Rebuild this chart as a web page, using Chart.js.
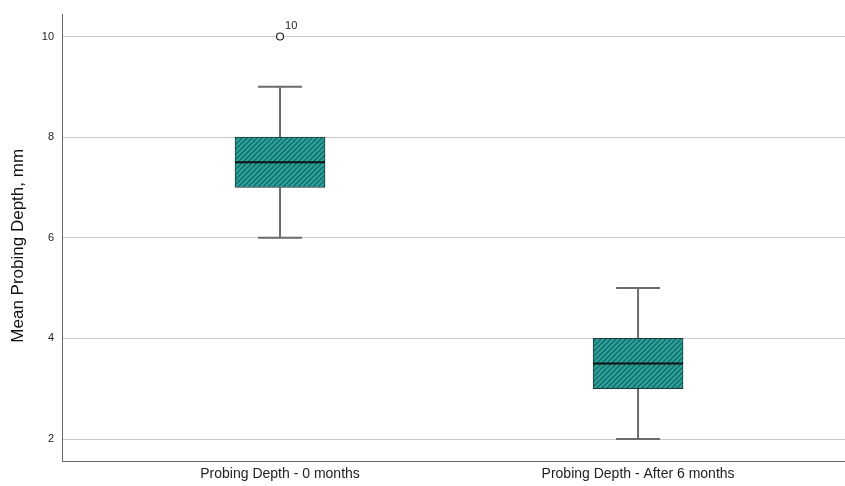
<!DOCTYPE html>
<html>
<head>
<meta charset="utf-8">
<script src="https://cdn.jsdelivr.net/npm/chart.js@4/dist/chart.umd.min.js"></script>
<style>
  html, body { margin: 0; padding: 0; background: #fff; overflow: hidden; }
  canvas { display: block; }
</style>
</head>
<body>
<canvas id="c" width="845" height="486"></canvas>
<script>
// Group labels and box-plot summaries (mm)
const categories = ['Probing Depth - 0 months', 'Probing Depth - After 6 months'];
const positions = [1, 2];
const whiskerLow = [6, 2];
const q1 = [7, 3];
const medians = [7.5, 3.5];
const q3 = [8, 4];
const whiskerHigh = [9, 5];
const outlierValues = [10];
const outlierGroup = [1];
const outlierLabels = ['10'];
const yTicks = [2, 4, 6, 8, 10];
const yTitle = 'Mean Probing Depth, mm';

const FONT = '"Liberation Sans", Arial, sans-serif';

// Teal fill with diagonal hatching
function hatchPattern() {
  const t = document.createElement('canvas');
  t.width = 5; t.height = 5;
  const g = t.getContext('2d');
  g.fillStyle = '#2aa49d';
  g.fillRect(0, 0, 5, 5);
  g.strokeStyle = '#176662';
  g.lineWidth = 1.3;
  g.beginPath();
  g.moveTo(-1, 6); g.lineTo(6, -1);
  g.moveTo(-1, 1); g.lineTo(1, -1);
  g.moveTo(4, 6); g.lineTo(6, 4);
  g.stroke();
  return document.getElementById('c').getContext('2d').createPattern(t, 'repeat');
}

// Whiskers behind the boxes, medians, outlier labels and axis title on top
const boxExtras = {
  id: 'boxExtras',
  beforeDatasetsDraw(chart) {
    const { ctx, scales: { x, y } } = chart;
    ctx.save();
    ctx.strokeStyle = '#6b6b6b';
    ctx.lineWidth = 2;
    positions.forEach((p, i) => {
      const cx = x.getPixelForValue(p);
      const half = 22;
      ctx.beginPath();
      ctx.moveTo(cx, y.getPixelForValue(whiskerLow[i]));
      ctx.lineTo(cx, y.getPixelForValue(q1[i]));
      ctx.moveTo(cx, y.getPixelForValue(q3[i]));
      ctx.lineTo(cx, y.getPixelForValue(whiskerHigh[i]));
      ctx.moveTo(cx - half, y.getPixelForValue(whiskerLow[i]));
      ctx.lineTo(cx + half, y.getPixelForValue(whiskerLow[i]));
      ctx.moveTo(cx - half, y.getPixelForValue(whiskerHigh[i]));
      ctx.lineTo(cx + half, y.getPixelForValue(whiskerHigh[i]));
      ctx.stroke();
    });
    ctx.restore();
  },
  afterDatasetsDraw(chart) {
    const { ctx, chartArea, scales: { x, y } } = chart;
    const boxes = chart.getDatasetMeta(0).data;
    ctx.save();
    ctx.strokeStyle = '#111';
    ctx.lineWidth = 2;
    boxes.forEach((bar, i) => {
      const my = y.getPixelForValue(medians[i]);
      ctx.beginPath();
      ctx.moveTo(bar.x - bar.width / 2, my);
      ctx.lineTo(bar.x + bar.width / 2, my);
      ctx.stroke();
    });
    ctx.fillStyle = '#222';
    ctx.font = '11px ' + FONT;
    ctx.textAlign = 'left';
    ctx.textBaseline = 'middle';
    outlierValues.forEach((v, i) => {
      const px = x.getPixelForValue(outlierGroup[i]);
      const py = y.getPixelForValue(v);
      ctx.fillText(outlierLabels[i], px + 5, py - 11);
    });
    // vertical axis title
    ctx.translate(18, (chartArea.top + chartArea.bottom) / 2 + 8);
    ctx.rotate(-Math.PI / 2);
    ctx.fillStyle = '#111';
    ctx.font = '17px ' + FONT;
    ctx.textAlign = 'center';
    ctx.fillText(yTitle, 0, 0);
    ctx.restore();
  }
};

new Chart(document.getElementById('c'), {
  type: 'bar',
  data: {
    datasets: [
      {
        type: 'bar',
        data: positions.map((p, i) => ({ x: p, y: [q1[i], q3[i]] })),
        backgroundColor: hatchPattern(),
        borderColor: '#1e3b3a',
        borderWidth: 1,
        borderSkipped: false,
        barThickness: 90,
        order: 2
      },
      {
        type: 'scatter',
        data: outlierValues.map((v, i) => ({ x: outlierGroup[i], y: v })),
        pointStyle: 'circle',
        pointRadius: 3.5,
        pointBackgroundColor: '#fff',
        pointBorderColor: '#222',
        pointBorderWidth: 1.2,
        order: 1
      }
    ]
  },
  options: {
    responsive: false,
    animation: false,
    devicePixelRatio: 1,
    layout: { autoPadding: false, padding: { top: 13, right: 0, left: 0, bottom: 0 } },
    plugins: { legend: { display: false }, tooltip: { enabled: false } },
    scales: {
      x: {
        type: 'linear',
        offset: false,
        grace: 0,
        min: 0.391,
        max: 2.578,
        afterBuildTicks(s) { s.ticks = positions.map(v => ({ value: v })); },
        afterFit(s) { s.height = 25; s.paddingRight = 0; s.paddingLeft = 0; },
        grid: { display: false, drawTicks: false, offset: false },
        border: { display: true, color: '#666', width: 1 },
        ticks: {
          padding: 5,
          color: '#222',
          font: { family: FONT, size: 14 },
          maxRotation: 0,
          autoSkip: false,
          callback: (v) => categories[positions.indexOf(v)] || ''
        }
      },
      y: {
        type: 'linear',
        min: 1.5644,
        max: 10.4356,
        afterBuildTicks(s) { s.ticks = yTicks.map(v => ({ value: v })); },
        afterFit(s) { s.width = 62; },
        grid: { color: '#c8c8c8', lineWidth: 1, drawTicks: false },
        border: { display: true, color: '#666', width: 1 },
        ticks: {
          padding: 8,
          color: '#222',
          font: { family: FONT, size: 11 }
        },
        title: { display: false }
      }
    }
  },
  plugins: [boxExtras]
});
</script>
</body>
</html>
